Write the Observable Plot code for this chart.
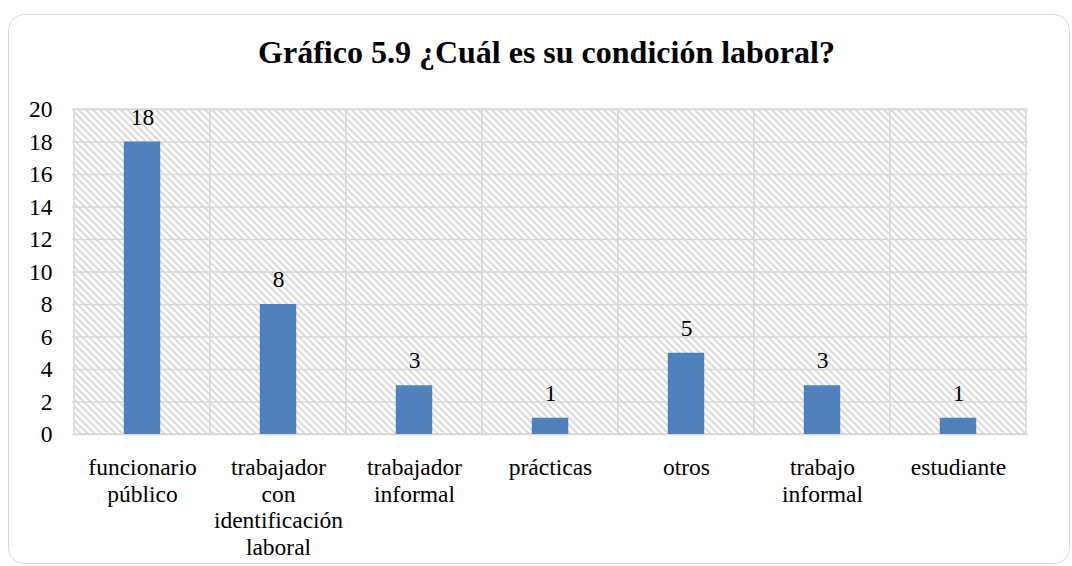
<!DOCTYPE html>
<html>
<head>
<meta charset="utf-8">
<script src="https://cdn.jsdelivr.net/npm/d3@7"></script>
<script src="https://cdn.jsdelivr.net/npm/@observablehq/plot@0.6"></script>
<style>
  html, body { margin: 0; padding: 0; background: #fff; }
  #wrap { position: relative; width: 1072px; height: 566px; overflow: hidden; font-family: "Liberation Serif", "Times New Roman", serif; }
  #box { position: absolute; left: 8px; top: 14px; width: 1062px; height: 550px; border: 1.5px solid #d9d9d9; border-radius: 16px; box-sizing: border-box; }
  #title { position: absolute; left: 0; top: 36px; width: 1093px; line-height: 32px; text-align: center; font-weight: bold; font-size: 32px; color: #000; white-space: nowrap; }
  #chart { position: absolute; left: 0; top: 80px; }
</style>
</head>
<body>
<div id="wrap">
  <div id="box"></div>
  <div id="title">Gráfico 5.9 ¿Cuál es su condición laboral?</div>
  <div id="chart"></div>
</div>
<script>
const categories = [
  "funcionario\npúblico",
  "trabajador\ncon\nidentificación\nlaboral",
  "trabajador\ninformal",
  "prácticas",
  "otros",
  "trabajo\ninformal",
  "estudiante"
];
const values = [18, 8, 3, 1, 5, 3, 1];
const yTicks = [0, 2, 4, 6, 8, 10, 12, 14, 16, 18, 20];
const yMax = 20;

const data = categories.map((c, i) => ({category: c, value: values[i]}));
const bg = categories.map(c => ({category: c, top: yMax}));

const width = 1072, height = 486;
const marginLeft = 72, marginRight = 44, marginTop = 29, marginBottom = 132;
const band = (width - marginLeft - marginRight) / categories.length;
const barW = 37;
const inset = (band - barW) / 2;
const FS = 23.5;

const chart = Plot.plot({
  width, height, marginLeft, marginRight, marginTop, marginBottom,
  style: {fontFamily: '"Liberation Serif", "Times New Roman", serif', fontSize: FS + "px", color: "#000", background: "transparent", overflow: "visible"},
  x: {domain: categories, padding: 0, label: null},
  y: {domain: [0, yMax], label: null, ticks: yTicks},
  marks: [
    Plot.barY(bg, {x: "category", y: "top", fill: "url(#hatchPat)", stroke: "#d9d9d9", strokeWidth: 1.5, inset: 0}),
    Plot.ruleY(yTicks, {stroke: "#d9d9d9", strokeWidth: 1.5}),
    Plot.barY(data, {x: "category", y: "value", fill: "#4f81bd", insetLeft: inset, insetRight: inset}),
    Plot.text(data, {x: "category", y: "value", text: d => String(d.value), dy: -25, fontSize: FS, fill: "#000"}),
    Plot.axisY({ticks: yTicks, tickSize: 0, tickPadding: 20, fontSize: FS, label: null}),
    Plot.axisX({tickSize: 0, tickPadding: 22, fontSize: FS, lineHeight: 1.13, label: null})
  ]
});

const svg = d3.select(chart);
const defs = svg.insert("defs", ":first-child");
const pat = defs.append("pattern")
  .attr("id", "hatchPat")
  .attr("patternUnits", "userSpaceOnUse")
  .attr("width", 7).attr("height", 7);
pat.append("rect").attr("width", 7).attr("height", 7).attr("fill", "#fff");
pat.append("path")
  .attr("d", "M-1,-1 L8,8 M-1,6 L1,8 M6,-1 L8,1")
  .attr("stroke", "#dcdcdc").attr("stroke-width", 2);

document.getElementById("chart").appendChild(chart);
</script>
</body>
</html>
